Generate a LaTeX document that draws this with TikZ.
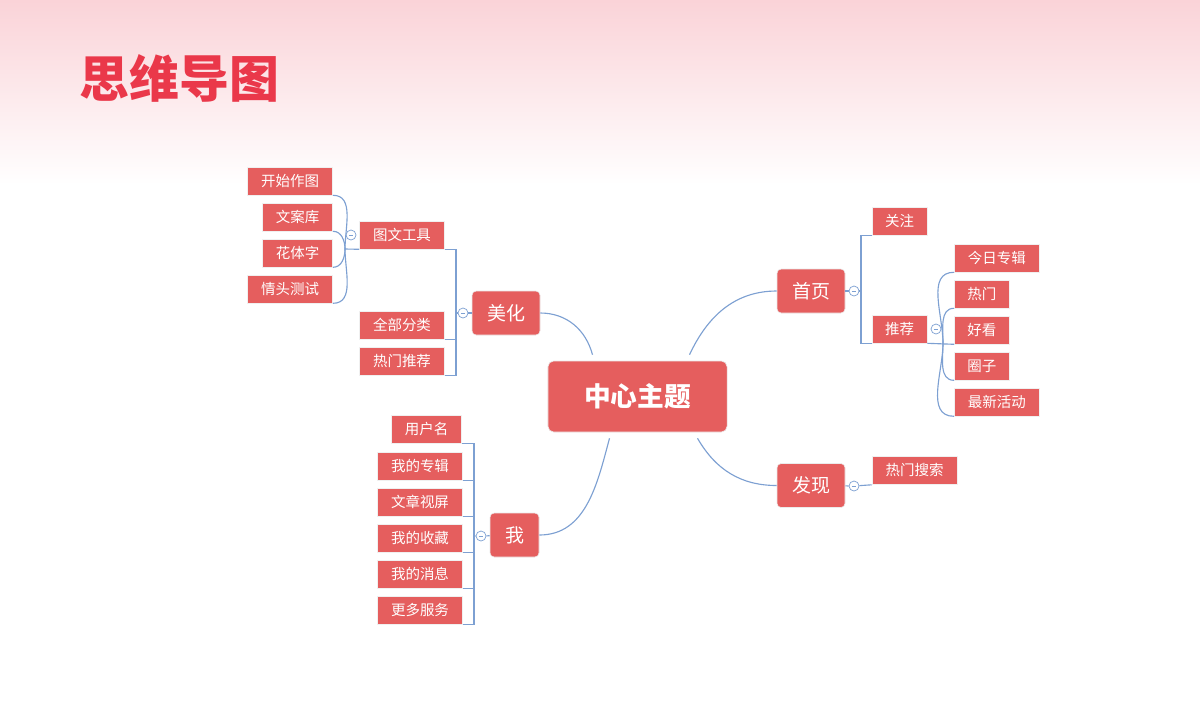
\documentclass[tikz,border=0pt]{standalone}
\usepackage{fontspec}
\setmainfont{Noto Sans CJK SC}
\usetikzlibrary{shapes.geometric, arrows}
\definecolor{boxred}{RGB}{229,94,94}
\definecolor{titlered}{RGB}{234,56,74}
\definecolor{linkblue}{RGB}{125,160,210}
\definecolor{toppink}{RGB}{250,211,216}
\tikzstyle{topic} = [rectangle, rounded corners=4pt, minimum width=4.475cm, minimum height=1.775cm, text centered, fill=boxred, draw=black!8, text=white, font=\fontsize{19}{22}\selectfont\bfseries]
\tikzstyle{branch} = [rectangle, rounded corners=3pt, minimum width=1.7cm, minimum height=1.1cm, inner sep=0pt, text centered, fill=boxred, draw=black!8, text=white, font=\fontsize{13.5}{16}\selectfont]
\tikzstyle{leaf} = [rectangle, minimum height=0.7cm, inner sep=0pt, text centered, fill=boxred, draw=black!6, text=white, font=\fontsize{10.3}{12}\selectfont]
\tikzstyle{w4} = [minimum width=2.125cm]
\tikzstyle{w3} = [minimum width=1.75cm]
\tikzstyle{w2} = [minimum width=1.375cm]
\tikzstyle{fold} = [circle, draw=linkblue, fill=white, line width=0.5pt, minimum size=0.25cm, inner sep=0pt, path picture={\draw[linkblue, line width=0.5pt] ([xshift=-1.6pt]path picture bounding box.center) -- ([xshift=1.6pt]path picture bounding box.center);}]
\tikzstyle{link} = [linkblue, line width=0.8pt]

\begin{document}
\begin{tikzpicture}[x=0.025cm, y=-0.025cm, node distance=0.9cm]

%% BACKGROUND

\fill [white] (0,0) rectangle (1200,700);
\shade [top color=toppink, bottom color=white] (0,0) rectangle (1200,185);
\useasboundingbox (0,0) rectangle (1200,700);

\node (title) [text=titlered, font=\fontsize{35.5}{40}\selectfont\bfseries] at (179.5,78) {思维导图};

%% NODES

\node (zx) [topic] at (637.5,396.5) {中心主题};

\node (meihua) [branch] at (506,313) {美化};
\node (shouye) [branch] at (811,291) {首页};
\node (faxian) [branch] at (811,485.5) {发现};
\node (wo) [branch, minimum width=1.225cm] at (514.5,535) {我};

% 美化
\node (tuwen) [leaf, w4] at (402,235) {图文工具};
\node (qbfl) [leaf, w4] at (402,325) {全部分类};
\node (rmtj) [leaf, w4, below of=qbfl] {热门推荐};
\node (kszt) [leaf, w4, anchor=east] at (333,181) {开始作图};
\node (wak) [leaf, w3, anchor=east] at (333,217) {文案库};
\node (htz) [leaf, w3, anchor=east] at (333,253) {花体字};
\node (qtcs) [leaf, w4, anchor=east] at (333,289) {情头测试};

% 首页
\node (guanzhu) [leaf, w2] at (899.5,221) {关注};
\node (tuijian) [leaf, w2] at (899.5,329) {推荐};
\node (jrzj) [leaf, w4, anchor=west] at (954,258) {今日专辑};
\node (remen) [leaf, w2, anchor=west] at (954,294) {热门};
\node (haokan) [leaf, w2, below of=remen] {好看};
\node (quanzi) [leaf, w2, below of=haokan] {圈子};
\node (zxhd) [leaf, w4, anchor=west] at (954,402) {最新活动};

% 发现
\node (rmss) [leaf, w4] at (914.5,470.5) {热门搜索};

% 我
\node (yhm) [leaf, w3, anchor=east] at (462,429) {用户名};
\node (wdzj) [leaf, w4] at (420,466) {我的专辑};
\node (wzsp) [leaf, w4, below of=wdzj] {文章视屏};
\node (wdsc) [leaf, w4, below of=wzsp] {我的收藏};
\node (wdxx) [leaf, w4, below of=wdsc] {我的消息};
\node (gdfw) [leaf, w4, below of=wdxx] {更多服务};

% fold buttons
\node (f1) [fold] at (463,313) {};
\node (f2) [fold] at (351,235) {};
\node (f3) [fold] at (854,291) {};
\node (f4) [fold] at (936,329) {};
\node (f5) [fold] at (854,486) {};
\node (f6) [fold] at (481,536) {};

\coordinate (b1) at (456,313);
\coordinate (b2) at (345,249);
\coordinate (b3) at (861,291);
\coordinate (b4) at (943,343);
\coordinate (b5) at (474,536);

%% ARROWS

\draw [link] ([xshift=-1.125cm, yshift=0.15cm]zx.north) to[out=105, in=0] (meihua.east);
\draw [link] ([xshift=1.3cm, yshift=0.15cm]zx.north) to[out=65, in=180] (shouye.west);
\draw [link] ([xshift=1.5cm, yshift=-0.15cm]zx.south) to[out=-60, in=180] (faxian.west);
\draw [link] ([xshift=-0.7cm, yshift=-0.15cm]zx.south) to[out=-105, in=0] (wo.east);

% 美化
\draw [link] (meihua) -- (f1) -- (b1);
\draw [link] (tuwen.south east) -| (b1) |- (rmtj.south east);
\draw [link] (qbfl.south east) -- (qbfl.south east -| b1);
\draw [link] (tuwen.south west) -- (b2);
\draw [link] (b2) to[out=90, in=0] (kszt.south east);
\draw [link] (b2) to[out=90, in=0] (wak.south east);
\draw [link] (b2) to[out=-90, in=0] (htz.south east);
\draw [link] (b2) to[out=-90, in=0] (qtcs.south east);

% 首页
\draw [link] (shouye) -- (f3) -- (b3);
\draw [link] (guanzhu.south west) -| (b3) |- (tuijian.south west);
\draw [link] (tuijian.south east) -- (haokan.south west);
\draw [link] (b4) to[out=90, in=180] (jrzj.south west);
\draw [link] (b4) to[out=90, in=180] (remen.south west);
\draw [link] (b4) to[out=-90, in=180] (quanzi.south west);
\draw [link] (b4) to[out=-90, in=180] (zxhd.south west);

% 发现
\draw [link] (faxian) -- (f5) -- (rmss.south west);

% 我
\draw [link] (wo) -- (f6) -- (b5);
\draw [link] (yhm.south east) -| (b5) |- (gdfw.south east);
\foreach \n in {wdzj, wzsp, wdsc, wdxx}
  \draw [link] (\n.south east) -- (\n.south east -| b5);

\end{tikzpicture}
\end{document}
